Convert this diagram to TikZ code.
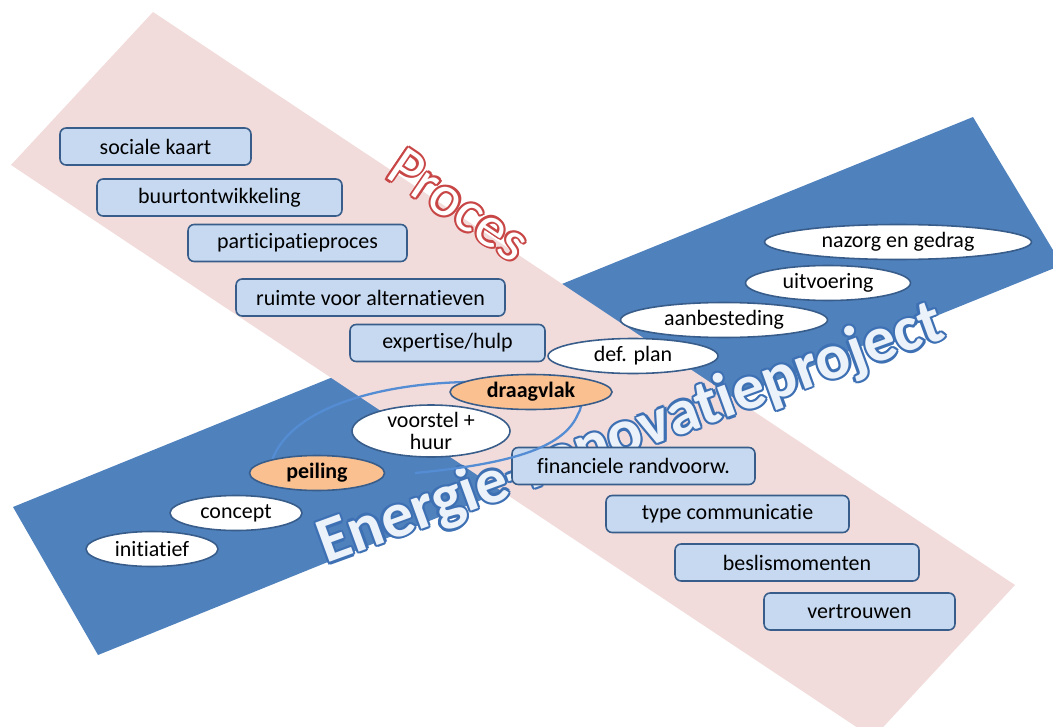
\documentclass[tikz,border=0pt]{standalone}
\usepackage{fontspec}
\setmainfont{Carlito}[Ligatures=NoCommon, RawFeature={-liga;-clig}]
\usepackage{tikz}
\usetikzlibrary{shapes.geometric}
\definecolor{bandblauw}{RGB}{79,129,189}
\definecolor{bandroze}{RGB}{242,220,219}
\definecolor{vakblauw}{RGB}{198,217,241}
\definecolor{randblauw}{RGB}{56,93,138}
\definecolor{oranje}{RGB}{250,192,144}
\definecolor{lusblauw}{RGB}{84,141,212}
\definecolor{procesrood}{RGB}{200,70,70}
\definecolor{energierand}{RGB}{62,112,180}
\definecolor{energievul}{RGB}{236,242,250}
\tikzset{
  blok/.style = {align=center, inner sep=0pt, text centered,
    font=\fontsize{12.5}{13}\selectfont},
  proc_box/.style = {blok, rectangle, rounded corners=3.5pt, draw=randblauw,
    line width=0.9pt, fill=vakblauw, minimum height=0.74cm},% proces, blok
  fase_ell/.style = {blok, ellipse, draw=randblauw, line width=0.9pt,
    fill=white, minimum height=0.7cm},% project, fase
  fase_key/.style = {fase_ell, fill=oranje,
    font=\fontsize{12.5}{13}\selectfont\bfseries},
  woord_p/.style = {inner sep=0pt, rotate=-34, font=\fontsize{33}{36}\selectfont},
  woord_e/.style = {inner sep=0pt, anchor=base west, rotate=20,
    font=\fontsize{36.5}{40}\selectfont\bfseries},
  lus/.style = {draw=lusblauw, line width=1.3pt}
}

\begin{document}
\begin{tikzpicture}[x=0.02cm, y=-0.02cm]
\useasboundingbox (0,0) rectangle (1053,726);
\clip (0,0) rectangle (1053,726);
% banden
\fill[bandblauw] (13,507) -- (973,117) -- (1062,265) -- (98,655) -- cycle;
\fill[bandroze] (153,12) -- (1015,585) -- (873,738) -- (11,165) -- cycle;
% titels
\foreach \a in {0,45,...,315}
  \node[woord_e, text=energierand, shift={(\a:2.4)}] (energie-\a) at (326,564) {Energie-renovatieproject};
\node[woord_e, text=energievul] (energie) at (326,564) {Energie-renovatieproject};
\foreach \a in {0,45,...,315}
  \node[woord_p, text=procesrood, shift={(\a:2.2)}] (proces-\a) at (459,205) {Proces};
\node[woord_p, text=white] (proces) at (459,205) {Proces};
% proces
\node [proc_box, minimum width=3.82cm] (sociaal) at (155.5,146.5) {sociale kaart};
\node [proc_box, minimum width=4.90cm] (buurt) at (219.5,197.5) {buurtontwikkeling};
\node [proc_box, minimum width=4.38cm] (participatie) at (297.5,243) {participatieproces};
\node [proc_box, minimum width=5.38cm] (ruimte) at (370.5,297.5) {ruimte voor alternatieven};
\node [proc_box, minimum width=3.90cm] (expertise) at (447.5,343) {expertise/hulp};
\node [proc_box, minimum width=4.86cm] (financieel) at (633.5,466) {financiele randvoorw.};
\node [proc_box, minimum width=4.86cm] (communicatie) at (727.5,514) {type communicatie};
\node [proc_box, minimum width=4.88cm] (beslis) at (797,562.5) {beslismomenten};
\node [proc_box, minimum width=3.82cm] (vertrouwen) at (859.5,611.5) {vertrouwen};
% lus
\coordinate (lusbegin) at (270,467);
\coordinate (lusend) at (415,473);
\draw[lus] (lusbegin) .. controls (285,405) and (390,381) .. (480,382)
  .. controls (565,383) and (590,395) .. (578,414)
  .. controls (565,445) and (520,463) .. (lusend);
% project
\node [fase_ell, minimum width=2.64cm] (initiatief) at (152,549) {initiatief};
\node [fase_ell, minimum width=2.64cm] (concept) at (236,513) {concept};
\node [fase_key, minimum width=2.70cm] (peiling) at (317,473) {peiling};
\node [fase_ell, minimum width=3.16cm, minimum height=1.04cm, inner ysep=-2pt] (voorstel) at (431,431) {voorstel +\\huur};
\node [fase_key, minimum width=3.24cm] (draagvlak) at (531,392) {draagvlak};
\node [fase_ell, minimum width=3.40cm] (defplan) at (633,356) {def. plan};
\node [fase_ell, minimum width=4.14cm] (aanbesteding) at (724,320) {aanbesteding};
\node [fase_ell, minimum width=3.30cm] (uitvoering) at (828,283) {uitvoering};
\node [fase_ell, minimum width=5.34cm] (nazorg) at (898,242) {nazorg en gedrag};
\end{tikzpicture}
\end{document}
